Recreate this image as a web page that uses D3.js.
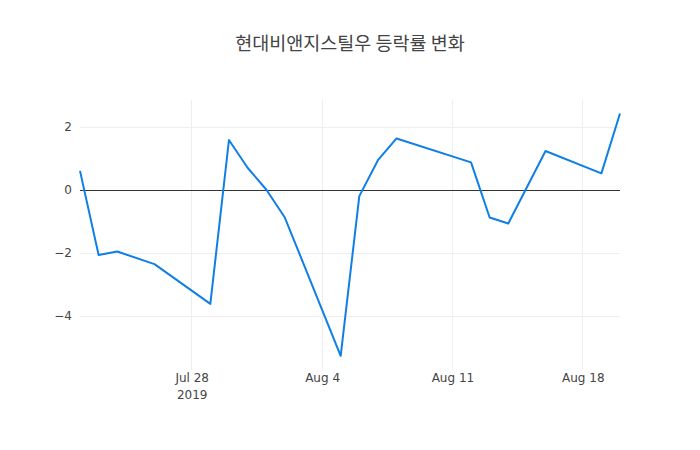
<!DOCTYPE html>
<html>
<head>
<meta charset="utf-8">
<script src="https://cdn.jsdelivr.net/npm/d3@7"></script>
<style>
  body { margin: 0; background: #fff; }
  svg { font-family: "DejaVu Sans", "Noto Sans CJK KR", sans-serif; }
</style>
</head>
<body>
<div id="chart"></div>
<script>
// 현대비앤지스틸우 daily change (%) — trading days only
var dates = [
  '2019-07-22', '2019-07-23', '2019-07-24', '2019-07-26', '2019-07-29',
  '2019-07-30', '2019-07-31', '2019-08-01', '2019-08-02', '2019-08-05',
  '2019-08-06', '2019-08-07', '2019-08-08', '2019-08-12', '2019-08-13',
  '2019-08-14', '2019-08-16', '2019-08-19', '2019-08-20'
];
var changes = [
  0.61, -2.06, -1.95, -2.35, -3.61,
  1.59, 0.71, 0.02, -0.87, -5.26,
  -0.19, 0.95, 1.64, 0.88, -0.87,
  -1.06, 1.24, 0.53, 2.43
];
var yTicks = [-4, -2, 0, 2];
var xTicks = ['2019-07-28', '2019-08-04', '2019-08-11', '2019-08-18'];
var titleText = '현대비앤지스틸우 등락률 변화';

var width = 700, height = 450;
var margin = { top: 100, right: 80, bottom: 80, left: 80 };
var parse = d3.timeParse('%Y-%m-%d');
var tickFont = '"DejaVu Sans", sans-serif';

var data = dates.map(function(d, i) { return { date: parse(d), value: changes[i] }; });

var svg = d3.select('#chart').append('svg')
  .attr('width', width)
  .attr('height', height);

var x = d3.scaleTime()
  .domain(d3.extent(data, function(d) { return d.date; }))
  .range([margin.left, width - margin.right]);

var y = d3.scaleLinear()
  .domain([-5.71, 2.86])
  .range([height - margin.bottom, margin.top]);

// Gridlines
svg.append('g')
  .attr('shape-rendering', 'crispEdges')
  .selectAll('line')
  .data(yTicks.filter(function(t) { return t !== 0; }))
  .enter().append('line')
  .attr('x1', margin.left).attr('x2', width - margin.right)
  .attr('y1', function(d) { return y(d); }).attr('y2', function(d) { return y(d); })
  .attr('stroke', '#eee').attr('stroke-width', 1);

svg.append('g')
  .attr('shape-rendering', 'crispEdges')
  .selectAll('line')
  .data(xTicks.map(parse))
  .enter().append('line')
  .attr('x1', function(d) { return x(d); }).attr('x2', function(d) { return x(d); })
  .attr('y1', margin.top).attr('y2', height - margin.bottom)
  .attr('stroke', '#eee').attr('stroke-width', 1);

// Zero line
svg.append('line')
  .attr('shape-rendering', 'crispEdges')
  .attr('x1', margin.left).attr('x2', width - margin.right)
  .attr('y1', y(0)).attr('y2', y(0))
  .attr('stroke', '#333').attr('stroke-width', 1);

// Y axis labels
var yAxis = d3.axisLeft(y).tickValues(yTicks).tickSize(0).tickPadding(8)
  .tickFormat(function(d) { return d < 0 ? '\u2212' + Math.abs(d) : d; });
var gy = svg.append('g')
  .attr('transform', 'translate(' + margin.left + ',0)')
  .call(yAxis);
gy.select('.domain').remove();
gy.selectAll('text').attr('fill', '#444').style('font-size', '12px')
  .style('font-family', tickFont);

// X axis labels
var fmt = d3.timeFormat('%b %-d');
var gx = svg.append('g')
  .attr('transform', 'translate(0,' + (height - margin.bottom) + ')')
  .call(d3.axisBottom(x).tickValues(xTicks.map(parse)).tickSize(0).tickPadding(3)
    .tickFormat(function(d) { return fmt(d); }));
gx.select('.domain').remove();
gx.selectAll('text').attr('fill', '#444').style('font-size', '12px')
  .style('font-family', tickFont);
gx.selectAll('.tick').filter(function(d, i) { return i === 0; })
  .append('text')
  .attr('y', 20).attr('dy', '0.71em')
  .attr('text-anchor', 'middle')
  .attr('fill', '#444').style('font-size', '12px')
  .style('font-family', tickFont)
  .text('2019');

// Line
var line = d3.line()
  .x(function(d) { return x(d.date); })
  .y(function(d) { return y(d.value); });

svg.append('path')
  .datum(data)
  .attr('d', line)
  .attr('fill', 'none')
  .attr('stroke', '#0f7fe6')
  .attr('stroke-width', 2)
  .attr('stroke-linejoin', 'round');

// Title
svg.append('text')
  .attr('x', width / 2).attr('y', 50)
  .attr('text-anchor', 'middle')
  .attr('fill', '#444')
  .style('font-size', '18.5px')
  .style('font-family', '"Noto Sans CJK KR", "Open Sans", sans-serif')
  .text(titleText);
</script>
</body>
</html>
